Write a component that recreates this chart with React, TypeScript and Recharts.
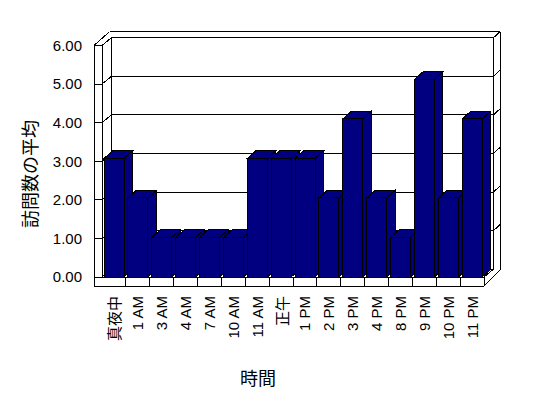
import React from 'react';
import { ComposedChart, Bar, Line, XAxis, YAxis, CartesianGrid, Customized } from 'recharts';

// ---- data ----
const categories = ['真夜中', '1 AM', '3 AM', '4 AM', '7 AM', '10 AM', '11 AM', '正午', '1 PM', '2 PM', '3 PM', '4 PM', '8 PM', '9 PM', '10 PM', '11 PM'];
const avgVisits = [3, 2, 1, 1, 1, 1, 3, 3, 3, 2, 4, 2, 1, 5, 2, 4];
const yTicks = [0, 1, 2, 3, 4, 5, 6];
const yAxisTitle = '訪問数の平均';
const xAxisTitle = '時間';

const data = categories.map((c, i) => ({ hour: c, avg: avgVisits[i] }));

// ---- layout ----
const W = 548;
const H = 398;
const Y_AXIS_W = 102;
const X_AXIS_H = 60;
const M = { top: 45.5, right: 64, bottom: 61, left: 0 };
const PL = M.left + Y_AXIS_W;
const PR = W - M.right;
const PT = M.top;
const PB = H - M.bottom - X_AXIS_H;
const WALL_DX = 9.5;
const WALL_DY = -7.8;
const EDGE_DX = 6.5;
const EDGE_DY = -6;
const BAR_DX = 8.5;
const BAR_DY = -7.6;
const FLOOR_H = 9;
const OUTER_LEFT = 94;
const BAR_AXIS_MAX = 5.86;
const NAVY = '#000080';
const FONT = "'Liberation Sans', 'Noto Sans CJK JP', sans-serif";
const CJK = "'Noto Sans CJK JP', sans-serif";

const isCJK = (s: string) => /[\u3000-\u9fff]/.test(s);

const Bar3D = (p: any) => {
  const { x, y, width, height } = p;
  if (!height || height <= 0) return null;
  const dx = BAR_DX, dy = BAR_DY;
  return (
    <g shapeRendering="crispEdges" stroke="#000" strokeWidth={1} fill={NAVY}>
      <polygon points={`${x + width},${y} ${x + width + dx},${y + dy} ${x + width + dx},${y + height + dy} ${x + width},${y + height}`} />
      <polygon points={`${x},${y} ${x + dx},${y + dy} ${x + width + dx},${y + dy} ${x + width},${y}`} />
      <rect x={x} y={y} width={width} height={height} />
    </g>
  );
};

const GridLine = (p: any) => {
  const { x1, x2, y1 } = p;
  const y = y1;
  const pts = [
    `${x1},${y}`,
    `${x1 + WALL_DX},${y + WALL_DY}`,
    `${x2 + WALL_DX},${y + WALL_DY}`,
  ];
  if (y < PB - 1) pts.push(`${x2 + WALL_DX + EDGE_DX},${y + WALL_DY + EDGE_DY}`);
  return <polyline key={p.key} points={pts.join(' ')} fill="none" stroke="#000" strokeWidth={1} shapeRendering="crispEdges" />;
};

const HourTick = (p: any) => {
  const { x, y, payload, index } = p;
  const half = (PR - PL) / categories.length / 2;
  const ty = y + 19;
  const label = String(payload.value);
  return (
    <g>
      {index > 0 && (
        <line x1={x - half} x2={x - half} y1={y} y2={y + FLOOR_H} stroke="#000" shapeRendering="crispEdges" />
      )}
      <text
        x={x}
        y={ty}
        transform={`rotate(-90 ${x} ${ty})`}
        textAnchor="end"
        dominantBaseline="central"
        fontSize={15}
        fontFamily={isCJK(label) ? CJK : FONT}
        fill="#000"
      >
        {label}
      </text>
    </g>
  );
};

const Frame = () => {
  const bl = PL + WALL_DX;
  const br = PR + WALL_DX;
  const bt = PT + WALL_DY;
  const bb = PB + WALL_DY;
  const ot = bt + EDGE_DY;
  const or = br + EDGE_DX;
  const ln = (x1: number, y1: number, x2: number, y2: number, k: string) => (
    <line key={k} x1={x1} y1={y1} x2={x2} y2={y2} stroke="#000" strokeWidth={1} shapeRendering="crispEdges" />
  );
  return (
    <g>
      {ln(OUTER_LEFT, PT, OUTER_LEFT, PB + FLOOR_H, 'lw1')}
      {ln(OUTER_LEFT, PT, PL, PT, 'lw2')}
      {ln(OUTER_LEFT, PT, bl - 2, ot, 'lw3')}
      {ln(bl - 2, ot, or, ot, 'top')}
      {ln(or, ot, or, PB + FLOOR_H - 16, 'rw1')}
      {ln(br, bt, br, bb, 'rw2')}
      {ln(bl, bt, bl, bb, 'bw1')}
      {ln(OUTER_LEFT, PB + FLOOR_H, PR, PB + FLOOR_H, 'f1')}
      {ln(PL, PB, PR, PB, 'f2')}
      {ln(PR, PB, PR, PB + FLOOR_H, 'f3')}
      {ln(PR, PB + FLOOR_H, or, PB + FLOOR_H - 16, 'f4')}
      {ln(PR, PB, br, bb, 'f5')}
      <text x={28.5} y={174} transform="rotate(-90 28.5 174)" textAnchor="middle" dominantBaseline="central" fontSize={18} fontFamily={CJK} fill="#000">{yAxisTitle}</text>
      <text x={258} y={376.5} textAnchor="middle" dominantBaseline="central" fontSize={18} fontFamily={CJK} fill="#000">{xAxisTitle}</text>
    </g>
  );
};

export default function App() {
  return (
    <div style={{ position: 'absolute', left: 0, top: 0, width: W, height: H, background: '#fff' }}>
      <ComposedChart width={W} height={H} data={data} margin={M} barSize={20}>
        <CartesianGrid vertical={false} horizontal={GridLine as any} stroke="#000" yAxisId="val" />
        <Customized component={Frame} />
        <XAxis
          dataKey="hour"
          height={X_AXIS_H}
          axisLine={false}
          tickLine={false}
          tickSize={0}
          tickMargin={0}
          interval={0}
          tick={<HourTick />}
        />
        <YAxis yAxisId="bar" type="number" hide width={0} domain={[0, BAR_AXIS_MAX]} allowDataOverflow />
        <YAxis
          yAxisId="val"
          type="number"
          domain={[0, 6]}
          ticks={yTicks}
          allowDataOverflow
          interval={0}
          width={Y_AXIS_W}
          tickSize={8}
          tickMargin={12}
          axisLine={{ stroke: '#000', shapeRendering: 'crispEdges' }}
          tickLine={{ stroke: '#000', shapeRendering: 'crispEdges' }}
          tick={{ fill: '#000', fontSize: 15, fontFamily: FONT }}
          tickFormatter={(v: number) => v.toFixed(2)}
        />
        <Line dataKey="avg" yAxisId="val" stroke="none" dot={false} activeDot={false} legendType="none" isAnimationActive={false} />
        <Bar dataKey="avg" yAxisId="bar" shape={<Bar3D />} isAnimationActive={false} />
      </ComposedChart>
    </div>
  );
}
